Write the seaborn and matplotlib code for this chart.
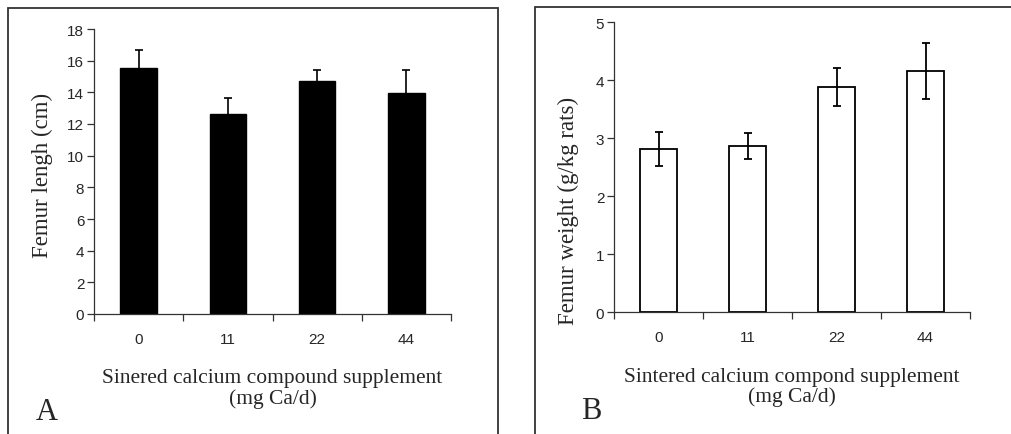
import matplotlib
matplotlib.use("Agg")
import matplotlib.pyplot as plt
import seaborn as sns
import pandas as pd
import numpy as np
from matplotlib.patches import Rectangle

doses = ["0", "11", "22", "44"]
length_mean = [15.55, 12.63, 14.74, 13.98]
length_err = [1.15, 1.0, 0.7, 1.45]
weight_mean = [2.82, 2.87, 3.88, 4.16]
weight_err = [0.29, 0.23, 0.33, 0.48]
yticks_a = [0, 2, 4, 6, 8, 10, 12, 14, 16, 18]
yticks_b = [0, 1, 2, 3, 4, 5]

sns.set_style("white")
plt.rcParams['font.family'] = ['Liberation Sans', 'DejaVu Sans']
SERIF = ['Liberation Serif', 'DejaVu Serif']

fig = plt.figure(figsize=(10.11, 4.35), dpi=100)
W, H = 1011, 435

def frac(x0, y0, x1, y1):
    return [x0 / W, 1 - y1 / H, (x1 - x0) / W, (y1 - y0) / H]

# panel frames
fig.patches.append(Rectangle((8 / W, -0.05), (498 - 8) / W, 1 - 9 / H + 0.05,
                             transform=fig.transFigure, fill=False,
                             edgecolor='#333333', lw=1.3))
fig.patches.append(Rectangle((535 / W, -0.05), 0.5, 1 - 8 / H + 0.05,
                             transform=fig.transFigure, fill=False,
                             edgecolor='#333333', lw=1.3))

axA = fig.add_axes(frac(94, 30, 451, 315))
axB = fig.add_axes(frac(614, 23.3, 970, 313.3))

dfA = pd.DataFrame({"dose": doses, "val": length_mean})
dfB = pd.DataFrame({"dose": doses, "val": weight_mean})

sns.barplot(data=dfA, x="dose", y="val", ax=axA, color="black",
            edgecolor="black", width=0.41, linewidth=1, saturation=1)
axA.errorbar(range(len(doses)), length_mean, yerr=length_err, fmt='none',
             ecolor='black', elinewidth=1.2, capsize=3.2, capthick=1.2)

sns.barplot(data=dfB, x="dose", y="val", ax=axB, color="white",
            edgecolor="black", width=0.41, linewidth=1.3, saturation=1)
axB.errorbar(range(len(doses)), weight_mean, yerr=weight_err, fmt='none',
             ecolor='black', elinewidth=1.3, capsize=3.2, capthick=1.3)

for ax, ticks, ylab, xlab in [
    (axA, yticks_a, "Femur lengh (cm)",
     "Sinered calcium compound supplement\n(mg Ca/d)"),
    (axB, yticks_b, "Femur weight (g/kg rats)",
     "Sintered calcium compond supplement\n(mg Ca/d)")]:
    ax.set_xlim(-0.5, len(doses) - 0.5)
    ax.set_ylim(ticks[0], ticks[-1])
    ax.set_yticks(ticks)
    ax.set_xticks(range(len(doses)))
    ax.set_xticks(np.arange(-0.5, len(doses)), minor=True)
    ax.tick_params(axis='x', which='major', length=0, pad=13, labelsize=11)
    ax.tick_params(axis='x', which='minor', length=5, width=0.9,
                   direction='out', bottom=True, color='#333333')
    ax.tick_params(axis='y', which='major', length=5, width=0.9,
                   direction='out', left=True, labelsize=11, pad=2,
                   color='#333333')
    for s in ['top', 'right']:
        ax.spines[s].set_visible(False)
    for s in ['left', 'bottom']:
        ax.spines[s].set_color('#333333')
        ax.spines[s].set_linewidth(0.9)
    ax.set_ylabel(ylab, family=SERIF, fontsize=16.5)
    ax.set_xlabel(xlab, family=SERIF, fontsize=15.5, labelpad=16,
                  linespacing=1.05)

fig.canvas.draw()
# place y labels by pixel position (right edge x, centre y)
for ax, xr, yc in [(axA, 53, 175), (axB, 579, 211)]:
    inv = ax.transAxes.inverted()
    px, py = inv.transform((xr, H - yc))
    ax.yaxis.set_label_coords(px, py)

fig.text(47 / W, 1 - 413 / H, "A", family=SERIF, fontsize=22,
         ha='center', va='center')
fig.text(591 / W, 1 - 412 / H, "B", family=SERIF, fontsize=22,
         ha='center', va='center')

fig.savefig("out.png", dpi=100)
